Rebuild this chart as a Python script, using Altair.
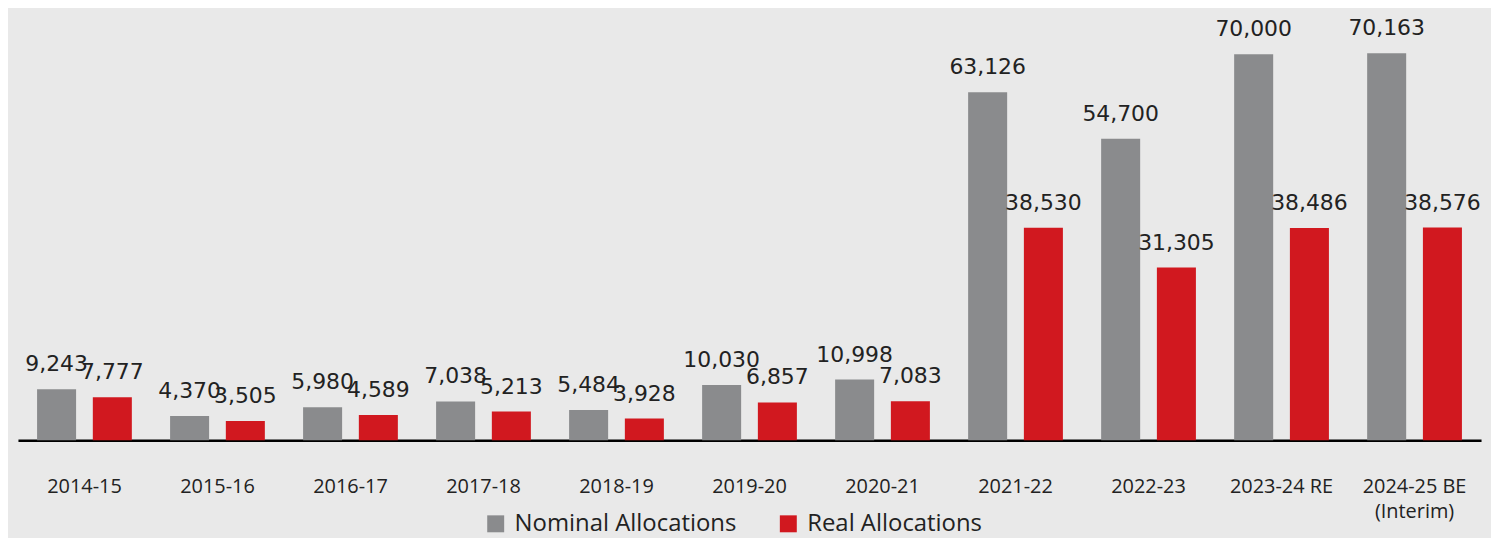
import altair as alt
import pandas as pd

years = ["2014-15", "2015-16", "2016-17", "2017-18", "2018-19", "2019-20",
         "2020-21", "2021-22", "2022-23", "2023-24 RE", "2024-25 BE (Interim)"]
nominal = [9243, 4370, 5980, 7038, 5484, 10030, 10998, 63126, 54700, 70000, 70163]
real = [7777, 3505, 4589, 5213, 3928, 6857, 7083, 38530, 31305, 38486, 38576]
series = ["Nominal Allocations", "Real Allocations"]
colors = ["#8a8b8d", "#d1181f"]

rows = []
for y, n, r in zip(years, nominal, real):
    rows.append({"year": y, "series": series[0], "value": n})
    rows.append({"year": y, "series": series[1], "value": r})
df = pd.DataFrame(rows)

FONT = "Open Sans"

x = alt.X("year:N", sort=years, title=None,
          scale=alt.Scale(paddingInner=0, paddingOuter=0),
          axis=alt.Axis(labelAngle=0, labelFontSize=20, labelFont=FONT,
                        labelColor="#222222", labelPadding=37, ticks=False,
                        labelLineHeight=25, labelLimit=0,
                        domainColor="#000000", domainWidth=2.5,
                        labelExpr="datum.value == '2024-25 BE (Interim)' ? ['2024-25 BE', '(Interim)'] : datum.label"))
xo = alt.XOffset("series:N", sort=series,
                 scale=alt.Scale(paddingInner=0.30, paddingOuter=0.343))
y = alt.Y("value:Q", scale=alt.Scale(domain=[0, 76000], nice=False),
          axis=None)

bars = alt.Chart(df).mark_bar().encode(
    x=x, xOffset=xo, y=y,
    color=alt.Color("series:N", sort=series,
                    scale=alt.Scale(domain=series, range=colors),
                    legend=alt.Legend(title=None, orient="none", direction="horizontal",
                                      legendX=468, legendY=493,
                                      symbolType="square", symbolSize=290,
                                      symbolStrokeWidth=0, symbolOpacity=1,
                                      labelFontSize=24, labelFont=FONT,
                                      labelColor="#222222", columnPadding=40,
                                      labelOffset=7, labelLimit=0)),
)

labels = alt.Chart(df).mark_text(baseline="alphabetic", dy=-18, fontSize=22,
                                 font="DejaVu Sans", color="#222222").encode(
    x=alt.X("year:N", sort=years), xOffset=alt.XOffset("series:N", sort=series), y=y,
    text=alt.Text("value:Q", format=","),
)

chart = alt.layer(bars, labels).properties(
    width=1470, height=421,
    autosize=alt.AutoSizeParams(type="none"),
    padding={"left": 10, "top": 12, "right": 10, "bottom": 97},
    background="#e9e9e9",
).configure_view(stroke=None)

chart.save("out.html", embed_options={"renderer": "svg", "actions": False})
